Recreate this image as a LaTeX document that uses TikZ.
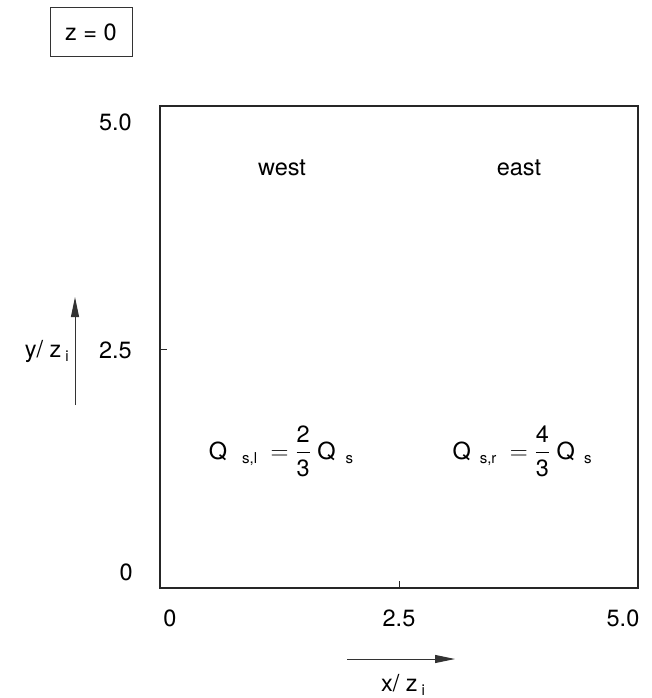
\documentclass[tikz,border=0pt]{standalone}
\usepackage{fontspec}
\setmainfont{TeX Gyre Heros}
\usepackage{amsmath}
\usetikzlibrary{positioning,arrows.meta}

\newcommand{\lowsub}[2][3pt]{\hspace{#1}{\raisebox{-0.35ex}{\fontsize{15}{15}\selectfont #2}}}

\begin{document}
\begin{tikzpicture}[
        x=1pt, y=-1pt,
        every node/.style = {font=\fontsize{23.5}{28}\selectfont, inner sep=0pt},
        frame/.style = {draw=black!85, line width=1.3pt},
        tick/.style  = {draw=black!85, line width=0.9pt},
        lbl/.style   = {anchor=east},
        arr/.style   = {-{Triangle[length=20pt, width=8pt]}, line width=1pt, black!80}
    ]
    \useasboundingbox (0,0) rectangle (651,698);
    % time label
    \node[draw=black!80, line width=1pt, minimum width=82pt, minimum height=49pt]
        (zbox) at (91,32.5) {z = 0};
    % plot frame
    \coordinate (sw) at (160,588);
    \coordinate (ne) at (638,106);
    \draw[frame] (sw) rectangle (ne);
    \draw[tick] (399,588) -- (399,581);
    \draw[tick] (160,349) -- (167,349);
    % y axis
    \node[lbl] (y50) at (132,122) {5.0};
    \node[lbl] (y25) at (132,350) {2.5};
    \node[lbl] (y00) at (133,572) {0};
    \coordinate (ybot) at (75,405);
    \coordinate (ytop) at (75,297);
    \draw[arr] (ybot) -- (ytop);
    \node[lbl] (ylab) at (69,351) {y/ z\lowsub[4pt]{i}};
    % x axis
    \node (x00) at (170,618) {0};
    \node (x25) at (399,618) {2.5};
    \node (x50) at (623,618) {5.0};
    \coordinate (xleft) at (347,659);
    \coordinate (xright) at (455,659);
    \draw[arr] (xleft) -- (xright);
    \node (xlab) at (403,685) {x/ z\lowsub[4pt]{i}};
    % regions
    \node (west) at (282,168) {west};
    \node (east) at (519,168) {east};
    \node (qleft)  at (281,451) {Q\lowsub[15pt]{s,l} ${}=\dfrac{\text{2}}{\text{3}}$ Q\lowsub[10pt]{s}};
    \node (qright) at (522,451) {Q\lowsub[9pt]{s,r} ${}=\dfrac{\text{4}}{\text{3}}$ Q\lowsub[9pt]{s}};
\end{tikzpicture}
\end{document}
